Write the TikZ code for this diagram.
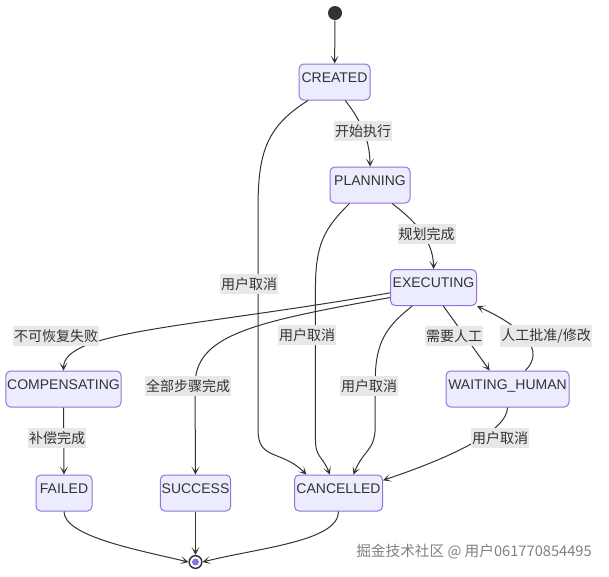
\documentclass[tikz,border=0pt]{standalone}
\usepackage{fontspec}
\setmainfont{Liberation Sans}
\newfontfamily\cjk{Noto Sans CJK SC}
\usepackage{xcolor}
\usetikzlibrary{arrows.meta}
\definecolor{stfill}{HTML}{ECECFF}
\definecolor{stline}{HTML}{9370DB}
\definecolor{ink}{HTML}{333333}
\definecolor{lblbg}{HTML}{E8E8E8}
\definecolor{finpurple}{HTML}{8F6FE0}

\begin{document}
\begin{tikzpicture}[x=0.75pt, y=-0.75pt,
  state/.style={draw=stline, fill=stfill, line width=0.75pt, rounded corners=3.5pt, minimum height=27pt, inner xsep=1pt, text height=7.5pt, text depth=7.5pt, text=ink, font=\fontsize{10.5}{12}\selectfont},
  lbl/.style={fill=lblbg, text=ink, inner xsep=0.75pt, inner ysep=2.6pt, font=\cjk\fontsize{10.5}{12}\selectfont},
  tr/.style={draw=ink, line width=0.75pt, -{Stealth[length=6pt,width=6pt,inset=3.5pt]}}]
  \useasboundingbox (0,0) rectangle (609,576);
  \node[circle, fill=ink, minimum size=10.5pt, inner sep=0pt] (init) at (335,13) {};
  \node[state, minimum width=53.25pt] (created) at (334.5,82) {CREATED};
  \node[state, minimum width=60pt] (planning) at (370,185) {PLANNING};
  \node[state, minimum width=64.5pt] (executing) at (433.5,287.5) {EXECUTING};
  \node[state, minimum width=84.75pt] (compensating) at (63.5,389) {COMPENSATING};
  \node[state, minimum width=92.25pt] (waiting) at (507.5,389) {WAITING\_HUMAN};
  \node[state, minimum width=42pt] (failed) at (64,493) {FAILED};
  \node[state, minimum width=51.75pt] (success) at (195.5,493) {SUCCESS};
  \node[state, minimum width=66pt] (cancelled) at (338.5,493) {CANCELLED};
  \node[circle, draw=ink, line width=1.1pt, fill=white, minimum size=9.5pt, inner sep=0pt,
    path picture={\fill[finpurple] (path picture bounding box.center) circle (2.6pt);}] (fin) at (195.5,562) {};

  \draw[tr] (init) -- (created);
  \draw[tr] (created.-60) .. controls +(12,15) and +(0,-30) .. (planning.north);
  \draw[tr] (created.-145) .. controls +(-40,25) and +(0,-55) .. ++(-50,105) -- ++(0,225) .. controls +(0,30) and +(-25,-25) .. (cancelled.150);
  \draw[tr] (planning.-40) .. controls +(20,15) and +(0,-30) .. (executing.north);
  \draw[tr] (planning.-138) .. controls +(-25,25) and +(0,-45) .. ++(-34,85) -- ++(0,150) .. controls +(0,20) and +(-8,-20) .. (cancelled.115);
  \draw[tr] (executing.187) .. controls +(-200,35) and +(0,-40) .. (compensating.north);
  \draw[tr] (executing.-167) .. controls +(-140,25) and +(0,-50) .. ++(-195,88) -- (success.north);
  \draw[tr] (executing.-139) .. controls +(-25,20) and +(0,-40) .. ++(-37,75) -- ++(0,45) .. controls +(0,25) and +(10,-25) .. (cancelled.51);
  \draw[tr] (executing.-62) -- (waiting.134);
  \draw[tr] (waiting.46) .. controls +(20,-20) and +(48,22) .. (executing.south east);
  \draw[tr] (waiting.south) .. controls +(0,25) and +(60,-20) .. (cancelled.16);
  \draw[tr] (compensating.south) -- (failed.north);
  \draw[tr] (failed.south) .. controls +(0,25) and +(-50,-12) .. (fin.west);
  \draw[tr] (success.south) -- (fin.north);
  \draw[tr] (cancelled.south) .. controls +(0,30) and +(55,-14) .. (fin.east);

  \node[lbl] (startexec) at (363,131) {开始执行};
  \node[lbl] (cancel1) at (249,284) {用户取消};
  \node[lbl] (plandone) at (426.5,234) {规划完成};
  \node[lbl] (cancel2) at (307,335) {用户取消};
  \node[lbl] (fatal) at (56,336) {不可恢复失败};
  \node[lbl] (needhuman) at (454,336) {需要人工};
  \node[lbl] (approve) at (546,336) {人工批准/修改};
  \node[lbl] (alldone) at (188,386) {全部步骤完成};
  \node[lbl] (cancel3) at (369,386) {用户取消};
  \node[lbl] (compdone) at (57,438) {补偿完成};
  \node[lbl] (cancel4) at (500,438) {用户取消};

  \node[text=black!50, font=\cjk\fontsize{11}{13}\selectfont] (mark) at (474,552) {掘金技术社区 @ 用户061770854495};
\end{tikzpicture}
\end{document}
